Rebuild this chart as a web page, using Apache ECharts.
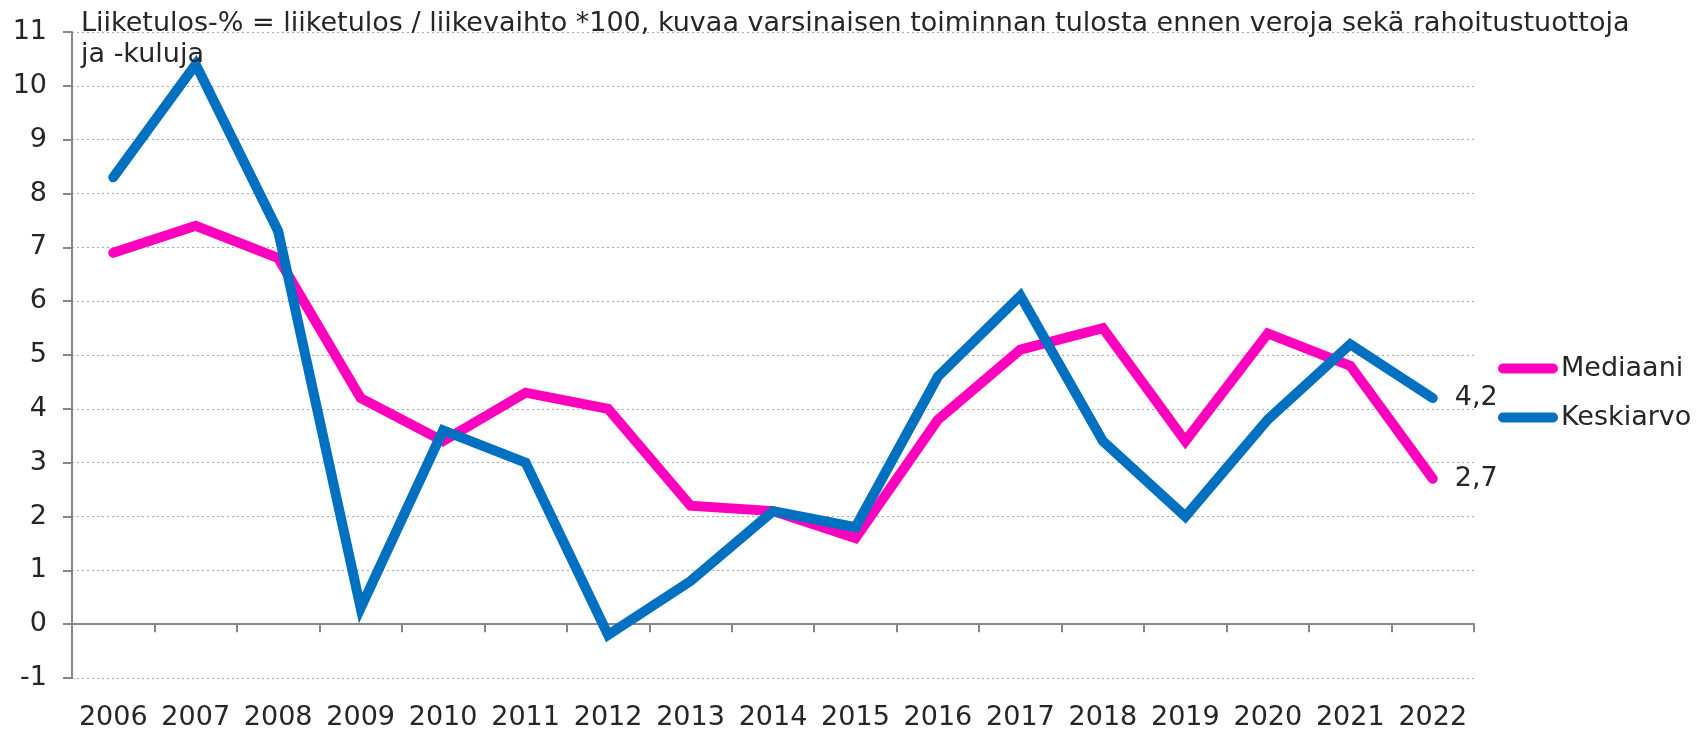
<!DOCTYPE html>
<html>
<head>
<meta charset="utf-8">
<script src="https://cdn.jsdelivr.net/npm/echarts@6/dist/echarts.min.js"></script>
<style>
  html, body { margin: 0; padding: 0; background: #fff; }
  #chart { width: 1699px; height: 729px; }
</style>
</head>
<body>
<div id="chart"></div>
<script>
// vuodet ja arvot
const years = ['2006', '2007', '2008', '2009', '2010', '2011', '2012', '2013', '2014',
  '2015', '2016', '2017', '2018', '2019', '2020', '2021', '2022'];
const mediaani = [6.9, 7.4, 6.8, 4.2, 3.4, 4.3, 4.0, 2.2, 2.1, 1.6, 3.8, 5.1, 5.5, 3.4, 5.4, 4.8, 2.7];
const keskiarvo = [8.3, 10.4, 7.3, 0.3, 3.6, 3.0, -0.2, 0.8, 2.1, 1.8, 4.6, 6.1, 3.4, 2.0, 3.8, 5.2, 4.2];
const seriesNames = ['Mediaani', 'Keskiarvo'];
const titleText = 'Liiketulos-% = liiketulos / liikevaihto *100, kuvaa varsinaisen toiminnan tulosta ennen veroja sekä rahoitustuottoja\nja -kuluja';

const font = 'DejaVu Sans, Verdana, sans-serif';
const textColor = '#262626';
const axisColor = '#868686';

let chart = echarts.init(document.getElementById('chart'));

function lineSeries(name, data, color) {
	return {
		name: name,
		type: 'line',
		data: data,
		symbol: 'none',
		color: color,
		lineStyle: { width: 10, color: color, cap: 'round', join: 'miter' },
		endLabel: {
			show: true,
			distance: 22,
			fontFamily: font,
			fontSize: 27,
			color: textColor,
			formatter: p => String(p.value).replace('.', ',')
		}
	}
}

let option = {
	animation: false,
	backgroundColor: '#fff',
	title: {
		text: titleText,
		left: 76,
		top: 3,
		textStyle: { fontFamily: font, fontSize: 27, fontWeight: 'normal', color: textColor, lineHeight: 31 }
	},
	legend: {
		data: seriesNames,
		orient: 'vertical',
		left: 1493,
		top: 350,
		itemWidth: 60,
		itemHeight: 11,
		itemGap: 22,
		icon: 'path://M5,0 H55 A5,5 0 0 1 55,10 H5 A5,5 0 0 1 5,0 Z',
		textStyle: { fontFamily: font, fontSize: 27, color: textColor, padding: [0, 0, 0, -2] }
	},
	grid: { left: 72, right: 225, top: 32, bottom: 51, outerBoundsMode: 'none' },
	xAxis: [
		{
			// nollaviiva ja jakoviivat
			type: 'category',
			data: years,
			axisLine: { onZero: true, lineStyle: { color: axisColor, width: 2 } },
			axisTick: { show: true, length: 8, lineStyle: { color: axisColor, width: 2 } },
			axisLabel: { show: false }
		},
		{
			// vuosiluvut alareunassa
			type: 'category',
			data: years,
			position: 'bottom',
			axisLine: { show: false, onZero: false },
			axisTick: { show: false },
			axisLabel: { show: true, interval: 0, margin: 40, verticalAlign: 'middle', lineHeight: 27,
				fontFamily: font, fontSize: 27, color: textColor }
		}
	],
	yAxis: {
		type: 'value',
		min: -1,
		max: 11,
		interval: 1,
		axisLine: { show: true, lineStyle: { color: axisColor, width: 2 } },
		axisTick: { show: true, length: 9, lineStyle: { color: axisColor, width: 2 } },
		axisLabel: { margin: 25, fontFamily: font, fontSize: 27, color: textColor },
		splitLine: { lineStyle: { color: '#a6a6a6', width: 1, type: [2, 3] } }
	},
	series: [
		lineSeries(seriesNames[0], mediaani, '#ff00bf'),
		lineSeries(seriesNames[1], keskiarvo, '#0070c0')
	]
};

chart.setOption(option);
</script>
</body>
</html>
